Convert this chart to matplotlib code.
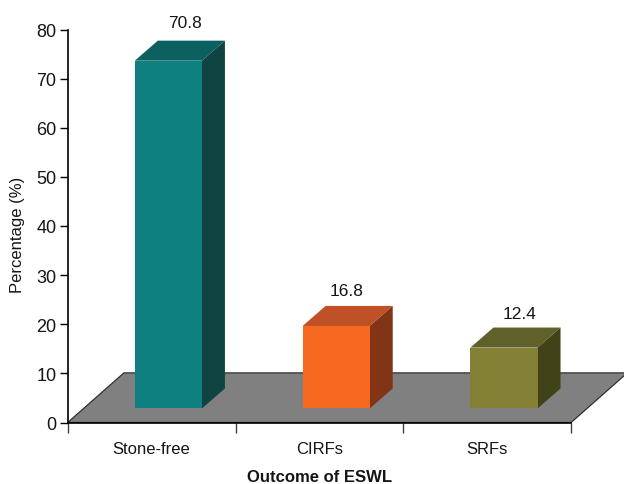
import matplotlib
matplotlib.use('Agg')
import matplotlib.pyplot as plt
from matplotlib.patches import Polygon

categories = ['Stone-free', 'CIRFs', 'SRFs']
values = [70.8, 16.8, 12.4]
yticks = [0, 10, 20, 30, 40, 50, 60, 70, 80]

front_colors = ['#0F8080', '#F76820', '#848035']
top_colors = ['#0D6060', '#C05025', '#60602A']
side_colors = ['#104442', '#823516', '#404218']

# value labels do not sit at the same place over each bar
label_dx = [0.10, 0.063, 0.095]
label_dy = [2.1, 1.7, 1.3]

plt.rcParams['font.family'] = ['Liberation Sans', 'DejaVu Sans']

W, H = 624, 485
unit = 167.8
fig = plt.figure(figsize=(W / 100, H / 100), dpi=100)
ax = fig.add_axes([67.7 / W, 1 - 423.5 / H, (W - 67.7) / W, (423.5 - 30.5) / H])
ax.set_xlim(0, (W - 67.7) / unit)
ax.set_ylim(0, 80)

# 3d look: depth of the floor and of the bars, in data units
floor_dx, floor_dy = 0.335, 10.1
bar_dx, bar_dy = 0.137, 4.08
bar_base = 2.85
bar_width = 0.4
bar_shift = 0.6

n = len(categories)
ax.add_patch(Polygon([(0, 0), (n, 0), (n + floor_dx, floor_dy), (floor_dx, floor_dy)],
                     closed=True, facecolor='#808080', edgecolor='#303030', linewidth=0.9, zorder=1))

for i, v in enumerate(values):
    left = i + bar_shift - bar_width / 2
    right = left + bar_width
    top = bar_base + v
    ax.bar(left, v, width=bar_width, bottom=bar_base, align='edge',
           color=front_colors[i], linewidth=0, zorder=3)
    ax.add_patch(Polygon([(left, top), (right, top), (right + bar_dx, top + bar_dy), (left + bar_dx, top + bar_dy)],
                         closed=True, facecolor=top_colors[i], edgecolor='none', zorder=2))
    ax.add_patch(Polygon([(right, bar_base), (right + bar_dx, bar_base + bar_dy),
                          (right + bar_dx, top + bar_dy), (right, top)],
                         closed=True, facecolor=side_colors[i], edgecolor='none', zorder=2))
    ax.text(i + bar_shift + label_dx[i], top + bar_dy + label_dy[i], f'{v}', ha='center', va='bottom',
            fontsize=12.5, color='#151515')

ax.spines['top'].set_visible(False)
ax.spines['right'].set_visible(False)
ax.spines['left'].set_linewidth(1.2)
ax.spines['bottom'].set_linewidth(1.2)
ax.spines['bottom'].set_bounds(0, n)
ax.spines['bottom'].set_zorder(4)

ax.set_yticks(yticks)
ax.tick_params(axis='y', labelsize=13, length=6, width=1, pad=2, labelcolor='#151515')
ax.set_xticks([i + 0.5 for i in range(n)])
ax.set_xticklabels(categories)
ax.set_xticks(list(range(n + 1)), minor=True)
ax.tick_params(axis='x', which='major', length=0, labelsize=12, pad=13, labelcolor='#151515')
ax.tick_params(axis='x', which='minor', length=7, width=1, color='#404040')

fig.text(18 / W, 1 - 235 / H, 'Percentage (%)', rotation=90, ha='center', va='center',
         fontsize=12, color='#151515')
ax.text(n / 2, -47 / 393, 'Outcome of ESWL', transform=ax.get_xaxis_transform(), ha='center', va='top',
        fontsize=12, fontweight='bold', color='#151515')

fig.savefig('out.png', dpi=100)
